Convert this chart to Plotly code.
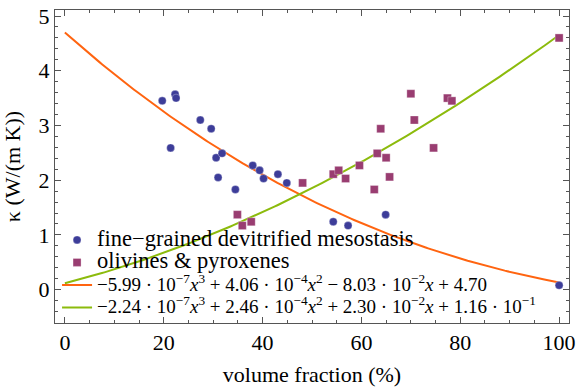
import numpy as np
import plotly.graph_objects as go

# fine-grained devitrified mesostasis
meso_x = [19.7, 22.3, 22.5, 27.4, 29.6, 21.4, 30.6, 31.8, 31.0, 34.5, 38.0, 39.4, 40.2, 43.1, 44.9, 54.3, 57.3, 64.9, 100.0]
meso_y = [3.45, 3.57, 3.50, 3.10, 2.94, 2.59, 2.41, 2.49, 2.05, 1.83, 2.27, 2.18, 2.03, 2.11, 1.95, 1.24, 1.17, 1.37, 0.08]

# olivines & pyroxenes
oli_x = [48.1, 34.9, 35.9, 37.7, 54.3, 55.4, 56.8, 59.6, 63.2, 65.0, 65.7, 62.6, 63.9, 70.7, 70.0, 77.4, 78.3, 74.6, 100.0]
oli_y = [1.95, 1.37, 1.17, 1.24, 2.11, 2.18, 2.03, 2.27, 2.49, 2.41, 2.06, 1.83, 2.94, 3.10, 3.58, 3.50, 3.45, 2.59, 4.60]

# fit coefficients (x^3, x^2, x, 1) as given in the legend
fit_meso = [-5.99e-7, 4.06e-4, -8.03e-2, 4.70]
fit_oli = [-2.24e-7, 2.46e-4, 2.30e-2, 1.16e-1]

x_ticks = [0, 20, 40, 60, 80, 100]
y_ticks = [0, 1, 2, 3, 4, 5]

xs = np.linspace(0, 100, 201)
y1 = np.polyval(fit_meso, xs)
y2 = np.polyval(fit_oli, xs)

FONT = "Liberation Serif, Times New Roman, Times, serif"
BIG = 'style="font-size:22.5px"'
MID = 'style="font-size:19px"'

name1 = f'<span {BIG}>fine\u2212grained devitrified mesostasis</span>'
name2 = f'<span {BIG}>olivines &amp; pyroxenes</span>'
name3 = (f'<span {MID}>\u22125.99 \u00b7 10<sup>\u22127</sup><i>x</i><sup>3</sup> + 4.06 \u00b7 10<sup>\u22124</sup><i>x</i><sup>2</sup>'
         ' \u2212 8.03 \u00b7 10<sup>\u22122</sup><i>x</i> + 4.70</span>')
name4 = (f'<span {MID}>\u22122.24 \u00b7 10<sup>\u22127</sup><i>x</i><sup>3</sup> + 2.46 \u00b7 10<sup>\u22124</sup><i>x</i><sup>2</sup>'
         ' + 2.30 \u00b7 10<sup>\u22122</sup><i>x</i> + 1.16 \u00b7 10<sup>\u22121</sup></span>')

fig = go.Figure()
fig.add_trace(go.Scatter(x=xs, y=y1, mode="lines", line=dict(color="#ff6410", width=2),
                         name=name3, legendrank=3))
fig.add_trace(go.Scatter(x=xs, y=y2, mode="lines", line=dict(color="#8cbb0c", width=2),
                         name=name4, legendrank=4))
fig.add_trace(go.Scatter(x=meso_x, y=meso_y, mode="markers",
                         marker=dict(symbol="circle", size=8, color="#3d3d99",
                                     line=dict(color="rgba(255,255,255,0.6)", width=0.5)),
                         name=name1, legendrank=1))
fig.add_trace(go.Scatter(x=oli_x, y=oli_y, mode="markers",
                         marker=dict(symbol="square", size=8, color="#993d71",
                                     line=dict(color="rgba(255,255,255,0.6)", width=0.5)),
                         name=name2, legendrank=2))

axis_common = dict(showgrid=False, zeroline=False, showline=True, linecolor="#555555", linewidth=1,
                   mirror="allticks", ticks="inside", tickcolor="#555555", tickwidth=1,
                   ticklabeloverflow="allow",
                   tickfont=dict(family=FONT, size=22, color="black"))

fig.update_xaxes(range=[-2, 102], tickvals=x_ticks, ticklen=6,
                 minor=dict(dtick=5, ticks="inside", ticklen=3, tickcolor="#555555", showgrid=False),
                 title=dict(text="volume fraction (%)", font=dict(family=FONT, size=22, color="black"), standoff=12),
                 **axis_common)
fig.update_yaxes(range=[-0.61, 5.11], tickvals=y_ticks, ticklen=6,
                 minor=dict(dtick=0.2, ticks="inside", ticklen=3, tickcolor="#555555", showgrid=False),
                 title=dict(text="\u03ba (W/(m K))", font=dict(family=FONT, size=22, color="black"), standoff=12),
                 **axis_common)

fig.update_layout(
    width=580, height=391,
    margin=dict(l=55, r=7, t=4, b=68),
    plot_bgcolor="white", paper_bgcolor="white",
    font=dict(family=FONT, size=15, color="black"),
    legend=dict(x=0.004, y=-0.002, xanchor="left", yanchor="bottom",
                bgcolor="rgba(0,0,0,0)", borderwidth=0,
                font=dict(family=FONT, size=15, color="black"),
                tracegroupgap=0, itemwidth=30),
    showlegend=True,
)

fig.write_html("out.html", config={"displayModeBar": False},
               post_script="document.body.style.margin='0';document.body.style.padding='0';")
